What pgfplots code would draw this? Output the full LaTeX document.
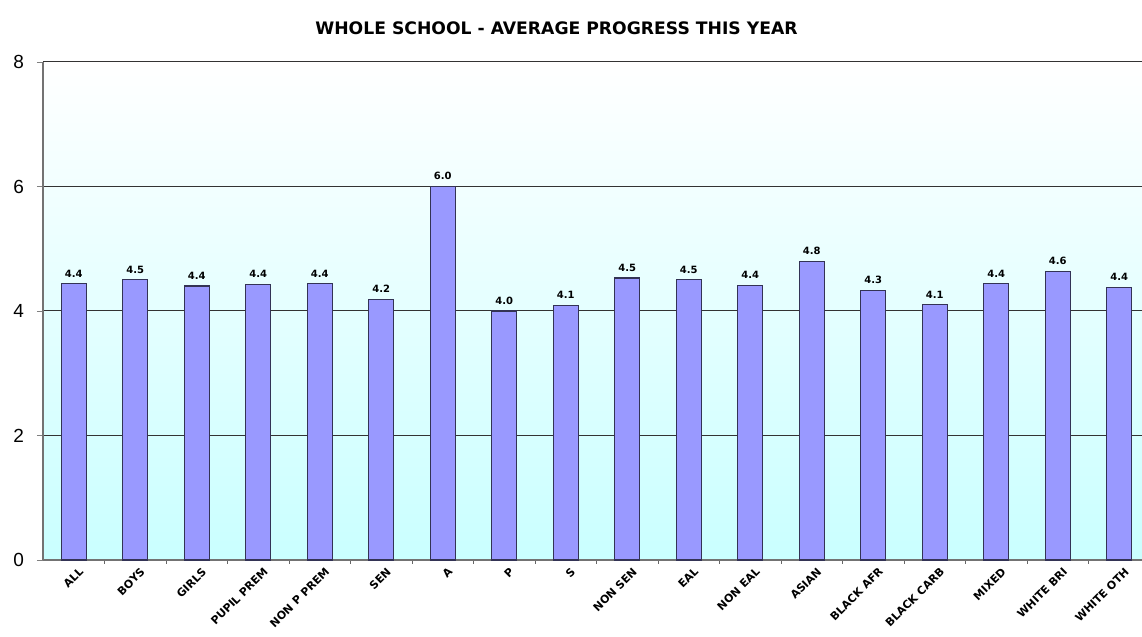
\documentclass[border=0pt]{standalone}
\usepackage{pgfplots}
\pgfplotsset{compat=1.18}
\usepackage{fontspec}
\setmainfont{DejaVu Sans}
\newfontfamily\arialfont{Liberation Sans}
\definecolor{barfill}{HTML}{9999FF}
\definecolor{baredge}{HTML}{333355}

\begin{document}
\begin{tikzpicture}
\begin{axis}[
    scale only axis,
    width=549.5pt, height=249pt,
    xmin=-0.5, xmax=17.37,
    ymin=0, ymax=8,
    axis y line*=left,
    axis x line*=bottom,
    axis line style={black!55, line width=0.6pt, -},
    axis background/.style={shade, top color=white, bottom color=cyan!21},
    ytick={0,2,4,6,8},
    ymajorgrids=true,
    grid style={black!80, line width=0.5pt},
    y tick label style={font=\arialfont\fontsize{9.5}{10}\selectfont, xshift=-3pt},
    /pgf/number format/assume math mode=true,
    tick align=outside,
    major tick length=3pt,
    xtick={0,...,17},
    x tick style={draw=none},
    minor xtick={0.5,1.5,...,16.5},
    minor x tick style={draw=black!60, line width=0.5pt},
    minor tick length=2pt,
    xticklabels={ALL, BOYS, GIRLS, PUPIL PREM, NON P PREM, SEN, A, P, S, NON SEN, EAL, NON EAL, ASIAN, BLACK AFR, BLACK CARB, MIXED, WHITE BRI, WHITE OTH},
    x tick label style={font=\fontsize{5.5}{6}\selectfont\bfseries, rotate=45, anchor=east, inner sep=0.5pt, yshift=-4pt, xshift=2pt},
    title={\bfseries WHOLE SCHOOL - AVERAGE PROGRESS THIS YEAR},
    title style={font=\fontsize{8.6}{10}\selectfont, yshift=4pt, xshift=-18pt},
    clip=false,
]
\addplot[
    ybar, bar width=12.5pt,
    fill=barfill, draw=baredge, line width=0.6pt,
    nodes near coords,
    nodes near coords style={font=\fontsize{5}{6}\selectfont\bfseries, /pgf/number format/fixed, /pgf/number format/precision=1, /pgf/number format/fixed zerofill, inner sep=3pt},
] coordinates {
    (0,4.44) (1,4.50) (2,4.40) (3,4.43) (4,4.44) (5,4.19)
    (6,6.00) (7,4.00) (8,4.09) (9,4.53) (10,4.50) (11,4.41)
    (12,4.80) (13,4.33) (14,4.10) (15,4.44) (16,4.64) (17,4.38)
};
\end{axis}
\pgfresetboundingbox
\path ([shift={(-21.5pt,-38.5pt)}]current axis.south west) rectangle ([shift={(0pt,31pt)}]current axis.north east);
\end{tikzpicture}
\end{document}
